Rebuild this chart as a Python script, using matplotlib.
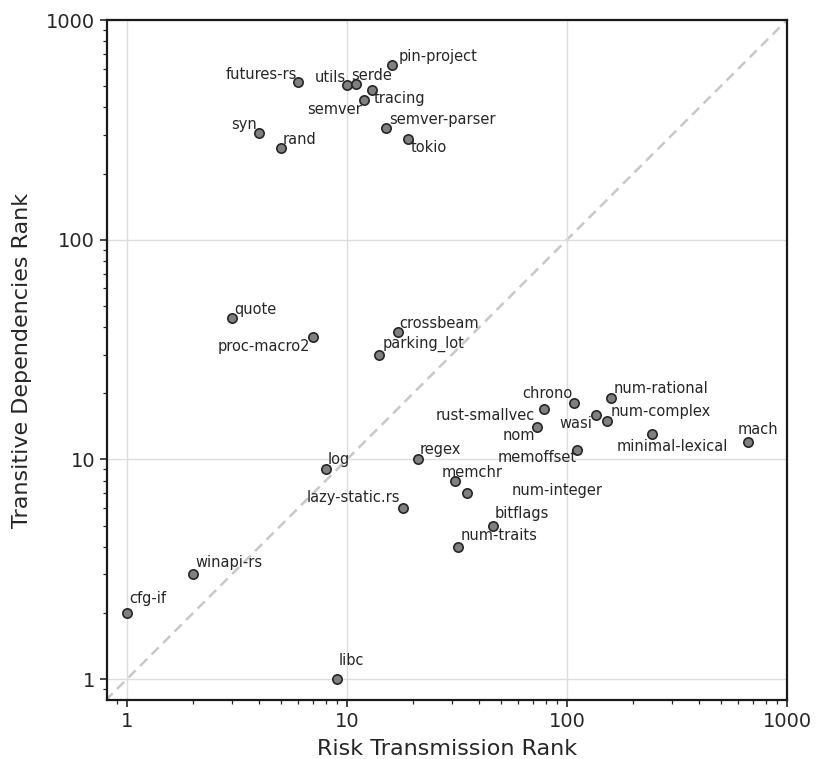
import matplotlib
matplotlib.use("Agg")
import matplotlib.pyplot as plt
import numpy as np

plt.rcParams['font.family'] = ['DejaVu Sans']

# ---- data ----
crates = ["futures-rs", "utils", "serde", "pin-project", "tracing", "semver",
          "semver-parser", "tokio", "syn", "rand", "quote", "proc-macro2",
          "crossbeam", "parking_lot", "chrono", "num-rational", "rust-smallvec",
          "num-complex", "wasi", "nom", "mach", "minimal-lexical", "memoffset",
          "regex", "log", "memchr", "lazy-static.rs", "num-integer", "bitflags",
          "num-traits", "winapi-rs", "cfg-if", "libc"]
risk_rank = [6, 10, 11, 16, 13, 12,
             15, 19, 4, 5, 3, 7,
             17, 14, 108, 158, 79,
             152, 135, 73, 665, 243, 111,
             21, 8, 31, 18, 35, 46,
             32, 2, 1, 9]
dep_rank = [521, 505, 510, 623, 480, 432,
            322, 287, 306, 261, 44, 36,
            38, 30, 18, 19, 17,
            15, 16, 14, 12, 13, 11,
            10, 9, 8, 6, 7, 5,
            4, 3, 2, 1]

# label placement (pixel offsets from point, horizontal alignment)
label_offsets = {
    "futures-rs": (-1, 8, "right"), "utils": (-1, 8, "right"),
    "serde": (-5, 9, "left"), "pin-project": (7, 9, "left"),
    "tracing": (2, -8, "left"), "semver": (-2, -9, "right"),
    "semver-parser": (3, 9, "left"), "tokio": (2, -8, "left"),
    "syn": (-2, 9, "right"), "rand": (2, 9, "left"),
    "quote": (2, 9, "left"), "proc-macro2": (-3, -9, "right"),
    "crossbeam": (2, 9, "left"), "parking_lot": (4, 11, "left"),
    "chrono": (-2, 10, "right"), "num-rational": (3, 10, "left"),
    "rust-smallvec": (-10, -7, "right"), "num-complex": (4, 9, "left"),
    "wasi": (-3, -9, "right"), "nom": (-2, -8, "right"),
    "mach": (-10, 13, "left"), "minimal-lexical": (20, -12, "center"),
    "memoffset": (0, -7, "right"), "regex": (2, 10, "left"),
    "log": (2, 10, "left"), "memchr": (-13, 8, "left"),
    "lazy-static.rs": (-3, 11, "right"), "num-integer": (45, 3, "left"),
    "bitflags": (2, 12, "left"), "num-traits": (3, 11, "left"),
    "winapi-rs": (2, 12, "left"), "cfg-if": (2, 14, "left"),
    "libc": (2, 19, "left"),
}

fig = plt.figure(figsize=(8.16, 7.59), dpi=100)
ax = fig.add_axes([0.131, 0.0777, 0.8335, 0.8959])
ax.set_xscale("log")
ax.set_yscale("log")
ax.set_xlim(0.811, 1000)
ax.set_ylim(0.803, 1000)

ax.grid(True, which="major", color="#dddddd", linewidth=1.0, zorder=0)
ax.plot([0.8, 1000], [0.8, 1000], linestyle=(0, (4, 2.5)), color="#c8c8c8",
        linewidth=1.8, zorder=1)

ax.scatter(risk_rank, dep_rank, s=45, facecolor="#808080", edgecolor="#262626",
           linewidth=1.2, zorder=3)

for name, x, y in zip(crates, risk_rank, dep_rank):
    dx, dy, ha = label_offsets[name]
    ax.annotate(name, (x, y), xytext=(dx, dy), textcoords="offset pixels",
                ha=ha, va="center", fontsize=10.5, color="#262626", zorder=4)

ax.set_xticks([1, 10, 100, 1000])
ax.set_xticklabels(["1", "10", "100", "1000"])
ax.set_yticks([1, 10, 100, 1000])
ax.set_yticklabels(["1", "10", "100", "1000"])
ax.tick_params(which="major", length=5, width=1.2, labelsize=14, color="#262626",
               labelcolor="#262626")
ax.tick_params(which="minor", length=3, width=0.9, color="#262626")
for sp in ax.spines.values():
    sp.set_linewidth(1.6)
    sp.set_color("#1a1a1a")

ax.set_xlabel("Risk Transmission Rank", fontsize=16, color="#262626", labelpad=6)
ax.set_ylabel("Transitive Dependencies Rank", fontsize=16, color="#262626", labelpad=10)

fig.savefig("out.png", dpi=100)
